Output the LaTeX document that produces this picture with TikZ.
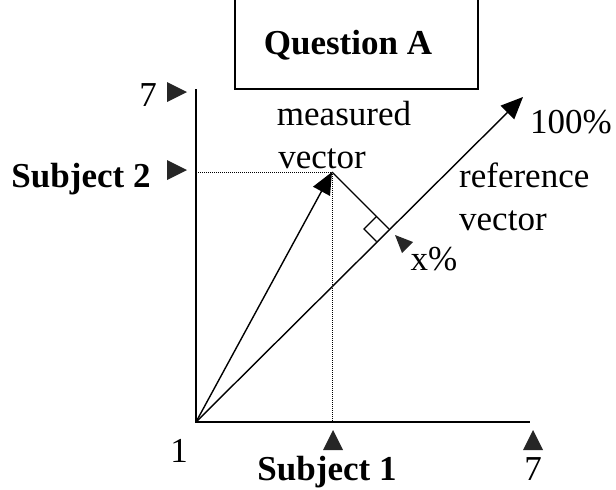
\documentclass[tikz,border=0pt]{standalone}
\usepackage{fontspec}
\setmainfont{Liberation Serif}
\usetikzlibrary{arrows.meta,calc}
\begin{document}
\begin{tikzpicture}[x=1pt,y=-1pt,
  lbl/.style={anchor=base,inner sep=0pt,font=\fontsize{35}{40}\selectfont},
  blbl/.style={lbl,font=\fontsize{35}{40}\selectfont\bfseries},
  axis/.style={line width=1.8pt},
  vec/.style={line width=1.4pt,-{Triangle[length=22pt,width=19pt]}},
  guide/.style={line width=1pt,dash pattern=on 1pt off 1pt},
  tickmark/.style={fill=black!85}
]
\useasboundingbox (0,0) rectangle (616,490);
% coordinates
\coordinate (O) at (196,422);
\coordinate (Ytop) at (196,89);
\coordinate (Xend) at (530,422);
\coordinate (M) at (332,172);
\coordinate (R) at (523,97);
\coordinate (F) at (389,229);
\coordinate (MY) at (196,172);
\coordinate (MX) at (332,422);
% question box (top edge cut off)
\coordinate (B1) at (235,0);
\coordinate (B2) at (235,89);
\coordinate (B3) at (478,89);
\coordinate (B4) at (478,0);
\draw[line width=1.2pt] (B1) -- (B2) -- (B3) -- (B4);
\node[blbl] (q) at (348,54) {Question A};
% axes
\draw[axis] (Ytop) -- (O) -- (Xend);
% guides
\draw[guide] (MY) -- (M);
\draw[guide] (M) -- (MX);
% vectors
\draw[vec] (O) -- (M);
\draw[vec] (O) -- (R);
\draw[line width=1.3pt] (M) -- (F);
% right angle
\coordinate (S1) at ($(F)+(-12.5,-12.5)$);
\coordinate (S2) at ($(F)+(-25,0)$);
\coordinate (S3) at ($(F)+(-12.5,12.5)$);
\draw[line width=1.2pt] (S1) -- (S2) -- (S3);
% tick triangles
\fill[tickmark] (167,82) -- (187,92) -- (167,102) -- cycle;
\fill[tickmark] (167,160) -- (187,170) -- (167,180) -- cycle;
\fill[tickmark] (323,450) -- (333,430) -- (343,450) -- cycle;
\fill[tickmark] (523,450) -- (533,430) -- (543,450) -- cycle;
\fill[tickmark] (395,235) -- (413,242) -- (402,253) -- cycle;
% labels
\node[lbl] (y7) at (148,106) {7};
\node[blbl] (s2) at (81,187) {Subject 2};
\node[lbl] (one) at (179,462) {1};
\node[blbl] (s1) at (327,480) {Subject 1};
\node[lbl] (x7) at (533,480) {7};
\node[lbl] (meas) at (344,125) {measured};
\node[lbl] (mvec) at (322,168) {vector};
\node[lbl,anchor=base west] (ref) at (459,187) {reference};
\node[lbl,anchor=base west] (rvec) at (459,230) {vector};
\node[lbl] (hund) at (571,133) {100\%};
\node[lbl] (xp) at (434,270) {x\%};
\end{tikzpicture}
\end{document}
